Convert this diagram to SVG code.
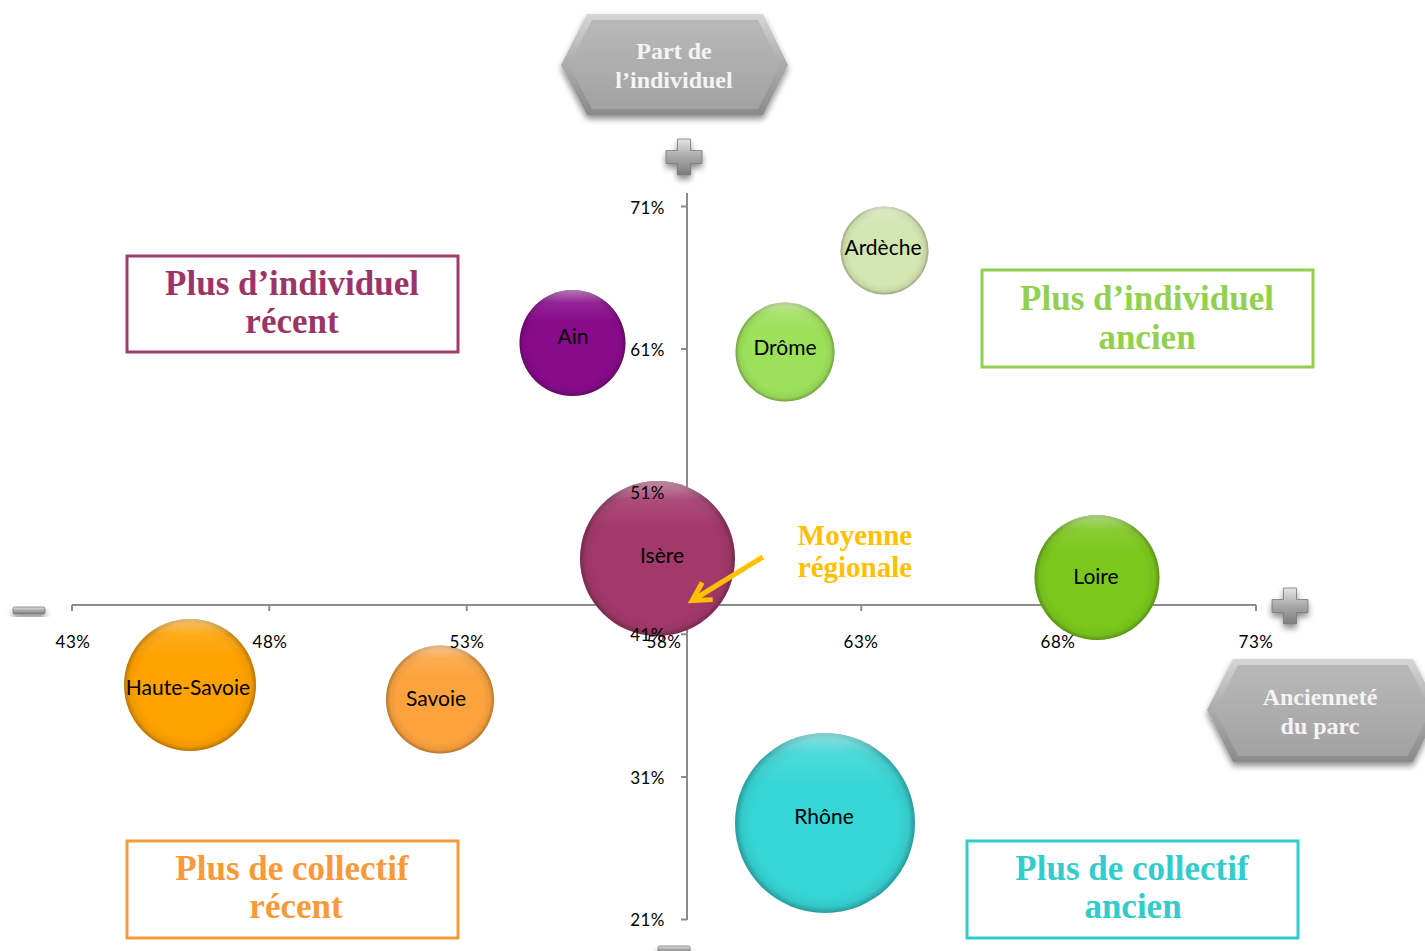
<svg xmlns="http://www.w3.org/2000/svg" xmlns:xlink="http://www.w3.org/1999/xlink" width="1425" height="951" viewBox="0 0 1425 951">
<style>
.axis{stroke:#8c8c8c;stroke-width:2;fill:none}
.tl{font-family:Lato,"Liberation Sans",sans-serif;font-size:17px;fill:#000;letter-spacing:0.5px}
.tv{text-anchor:end}
.th{text-anchor:middle}
.bl{font-family:Lato,"Liberation Sans",sans-serif;font-size:21px;fill:#000;text-anchor:middle}
.q{font-family:"Liberation Serif",serif;font-weight:bold;font-size:35px;text-anchor:middle}
.qb{fill:none;stroke-width:3}
.hx{font-family:"Liberation Serif",serif;font-weight:bold;font-size:24px;fill:#f4f4f4;text-anchor:middle}
.moy{font-family:"Liberation Serif",serif;font-weight:bold;font-size:29px;fill:#ffc000;text-anchor:middle}
</style>
<defs>
<radialGradient id="shade" cx="0.5" cy="0.5" r="0.5">
<stop offset="0.8" stop-color="#000" stop-opacity="0"/>
<stop offset="0.93" stop-color="#000" stop-opacity="0.06"/>
<stop offset="1" stop-color="#000" stop-opacity="0.28"/>
</radialGradient>
<linearGradient id="gloss" x1="0" y1="0" x2="0" y2="1">
<stop offset="0" stop-color="#fff" stop-opacity="0.45"/>
<stop offset="0.12" stop-color="#fff" stop-opacity="0.1"/>
<stop offset="0.3" stop-color="#fff" stop-opacity="0"/>
</linearGradient>
<linearGradient id="hexg" x1="0" y1="0" x2="0" y2="1">
<stop offset="0" stop-color="#d6d6d6"/>
<stop offset="0.5" stop-color="#ababab"/>
<stop offset="1" stop-color="#8a8a8a"/>
</linearGradient>
<linearGradient id="hexin" x1="0" y1="0" x2="0" y2="1">
<stop offset="0" stop-color="#b9b9b9"/>
<stop offset="1" stop-color="#a2a2a2"/>
</linearGradient>
<linearGradient id="signg" x1="0" y1="0" x2="0" y2="1">
<stop offset="0" stop-color="#e6e6e6"/>
<stop offset="0.5" stop-color="#a8a8a8"/>
<stop offset="1" stop-color="#7d7d7d"/>
</linearGradient>
<filter id="sh" x="-20%" y="-20%" width="140%" height="160%">
<feGaussianBlur in="SourceAlpha" stdDeviation="3"/>
<feOffset dx="0" dy="4" result="b"/>
<feComponentTransfer><feFuncA type="linear" slope="0.45"/></feComponentTransfer>
<feMerge><feMergeNode/><feMergeNode in="SourceGraphic"/></feMerge>
</filter>
<path id="plus" d="M-6.5,-18 h13 v11.5 h11.5 v13 h-11.5 v11.5 h-13 v-11.5 h-11.5 v-13 h11.5 z" fill="url(#signg)" stroke="#777" stroke-width="0.8"/>
<rect id="minus" x="0" y="0" width="32" height="7" rx="1.5" fill="url(#signg)" stroke="#777" stroke-width="0.8"/>
<marker id="ah" markerUnits="userSpaceOnUse" viewBox="0 0 20 20" refX="17" refY="10" markerWidth="20" markerHeight="20" orient="auto" overflow="visible">
<path d="M0,0 L18,10 L0,20" fill="none" stroke="#ffc000" stroke-width="5" stroke-linejoin="miter"/>
</marker>
</defs>
<rect width="1425" height="951" fill="#fff"/>

<g id="axes">
<line class="axis" x1="72" y1="605" x2="1256" y2="605"/>
<path class="axis" d="M72,605 v6 M269.3,605 v6 M466.7,605 v6 M664,605 v6 M861.3,605 v6 M1058.7,605 v6 M1256,605 v6"/>
<line class="axis" x1="687" y1="193" x2="687" y2="920"/>
<path class="axis" d="M687,206.5 h-6 M687,349.1 h-6 M687,491.7 h-6 M687,634.3 h-6 M687,776.9 h-6 M687,919.5 h-6"/>
</g>

<g id="signs">
<use xlink:href="#plus" href="#plus" x="684" y="157" filter="url(#sh)"/>
<use xlink:href="#plus" href="#plus" x="1290" y="606" filter="url(#sh)"/>
<use xlink:href="#minus" href="#minus" x="13" y="607" filter="url(#sh)"/>
<use xlink:href="#minus" href="#minus" x="658" y="946" filter="url(#sh)"/>
</g>

<g id="hex-individuel">
<polygon points="561,65 587,14 763,14 788,65 763,115 587,115" fill="url(#hexg)" filter="url(#sh)"/>
<polygon points="569,65 592,20 758,20 780,65 758,109 592,109" fill="url(#hexin)"/>
<text class="hx" x="674" y="59">Part de</text>
<text class="hx" x="674" y="88">l’individuel</text>
</g>

<g id="hex-anciennete">
<polygon points="1207,710 1233,659 1413,659 1439,710 1413,762 1233,762" fill="url(#hexg)" filter="url(#sh)"/>
<polygon points="1215,710 1238,665 1408,665 1431,710 1408,756 1238,756" fill="url(#hexin)"/>
<text class="hx" x="1320" y="705">Ancienneté</text>
<text class="hx" x="1320" y="734">du parc</text>
</g>

<g id="bubble-ain">
<circle cx="572.5" cy="343" r="53" fill="#880b8b"/>
<circle cx="572.5" cy="343" r="53" fill="url(#shade)"/>
<circle cx="572.5" cy="343" r="53" fill="url(#gloss)"/>
</g>
<g id="bubble-ardeche">
<circle cx="884.5" cy="250.5" r="44" fill="#d3e5b0"/>
<circle cx="884.5" cy="250.5" r="44" fill="url(#shade)"/>
<circle cx="884.5" cy="250.5" r="44" fill="url(#gloss)"/>
</g>
<g id="bubble-drome">
<circle cx="785" cy="352" r="49.5" fill="#9de05b"/>
<circle cx="785" cy="352" r="49.5" fill="url(#shade)"/>
<circle cx="785" cy="352" r="49.5" fill="url(#gloss)"/>
</g>
<g id="bubble-isere">
<circle cx="657.5" cy="558.5" r="77.5" fill="#a3396b"/>
<circle cx="657.5" cy="558.5" r="77.5" fill="url(#shade)"/>
<circle cx="657.5" cy="558.5" r="77.5" fill="url(#gloss)"/>
</g>
<g id="bubble-loire">
<circle cx="1097" cy="577.5" r="62.5" fill="#7bc81c"/>
<circle cx="1097" cy="577.5" r="62.5" fill="url(#shade)"/>
<circle cx="1097" cy="577.5" r="62.5" fill="url(#gloss)"/>
</g>
<g id="bubble-haute-savoie">
<circle cx="190" cy="685" r="66" fill="#ffa200"/>
<circle cx="190" cy="685" r="66" fill="url(#shade)"/>
<circle cx="190" cy="685" r="66" fill="url(#gloss)"/>
</g>
<g id="bubble-savoie">
<circle cx="440" cy="699.5" r="54" fill="#fca33d"/>
<circle cx="440" cy="699.5" r="54" fill="url(#shade)"/>
<circle cx="440" cy="699.5" r="54" fill="url(#gloss)"/>
</g>
<g id="bubble-rhone">
<circle cx="825" cy="823" r="90" fill="#37d6d6"/>
<circle cx="825" cy="823" r="90" fill="url(#shade)"/>
<circle cx="825" cy="823" r="90" fill="url(#gloss)"/>
</g>

<g id="axis-labels">
<text class="tl th" x="73" y="648">43%</text>
<text class="tl th" x="270" y="648">48%</text>
<text class="tl th" x="467" y="648">53%</text>
<text class="tl th" x="664" y="648">58%</text>
<text class="tl th" x="861" y="648">63%</text>
<text class="tl th" x="1058" y="648">68%</text>
<text class="tl th" x="1256" y="648">73%</text>
<text class="tl tv" x="665" y="214">71%</text>
<text class="tl tv" x="665" y="356">61%</text>
<text class="tl tv" x="665" y="499">51%</text>
<text class="tl tv" x="665" y="641">41%</text>
<text class="tl tv" x="665" y="784">31%</text>
<text class="tl tv" x="665" y="926">21%</text>
</g>

<g id="bubble-labels">
<text class="bl" x="573" y="344">Ain</text>
<text class="bl" x="883" y="255">Ardèche</text>
<text class="bl" x="785" y="355">Drôme</text>
<text class="bl" x="662" y="563">Isère</text>
<text class="bl" x="1096" y="584">Loire</text>
<text class="bl" x="188" y="695">Haute-Savoie</text>
<text class="bl" x="436" y="706">Savoie</text>
<text class="bl" x="824" y="824">Rhône</text>
</g>

<g id="quad-individuel-recent">
<rect class="qb" x="127" y="256" width="331" height="96" stroke="#a03c6e"/>
<text class="q" x="292" y="295" fill="#9b3567">Plus d’individuel</text>
<text class="q" x="292" y="333" fill="#9b3567">récent</text>
</g>
<g id="quad-individuel-ancien">
<rect class="qb" x="982" y="270" width="331" height="97" stroke="#92d050"/>
<text class="q" x="1147" y="310" fill="#92d050">Plus d’individuel</text>
<text class="q" x="1147" y="349" fill="#92d050">ancien</text>
</g>
<g id="quad-collectif-recent">
<rect class="qb" x="127" y="841" width="331" height="97" stroke="#f79a3a"/>
<text class="q" x="292" y="880" fill="#f79a3a">Plus de collectif</text>
<text class="q" x="296" y="918" fill="#f79a3a">récent</text>
</g>
<g id="quad-collectif-ancien">
<rect class="qb" x="967" y="841" width="331" height="97" stroke="#33cccc"/>
<text class="q" x="1132" y="880" fill="#33cccc">Plus de collectif</text>
<text class="q" x="1133" y="918" fill="#33cccc">ancien</text>
</g>

<g id="moyenne">
<text class="moy" x="855" y="545">Moyenne</text>
<text class="moy" x="855" y="577">régionale</text>
</g>

<g id="connectors">
<line x1="763" y1="557" x2="693" y2="600" stroke="#ffc000" stroke-width="5" marker-end="url(#ah)"/>
</g>
</svg>
